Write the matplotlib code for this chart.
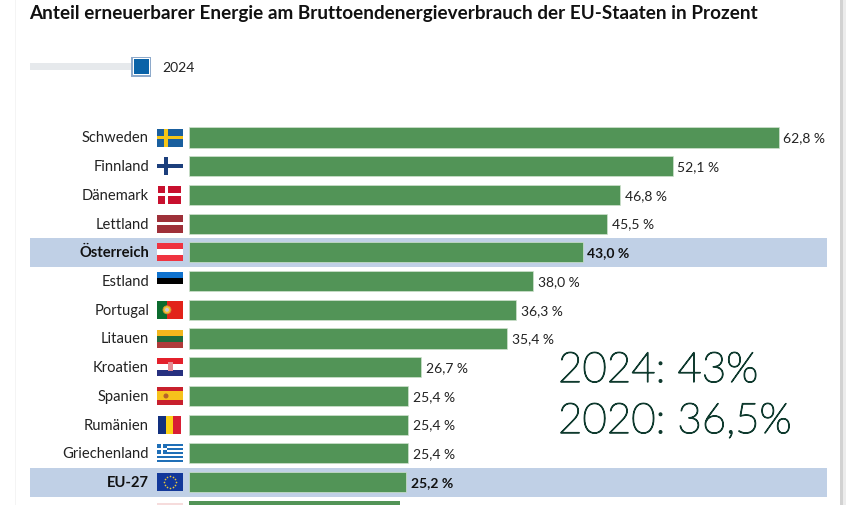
import matplotlib
matplotlib.use('Agg')
import matplotlib.pyplot as plt
import matplotlib.patheffects as pe
from matplotlib.patches import Rectangle, Circle
import numpy as np

countries = ['Schweden', 'Finnland', 'Dänemark', 'Lettland', 'Österreich', 'Estland', 'Portugal',
             'Litauen', 'Kroatien', 'Spanien', 'Rumänien', 'Griechenland', 'EU-27']
values = [62.8, 52.1, 46.8, 45.5, 43.0, 38.0, 36.3, 35.4, 26.7, 25.4, 25.4, 25.4, 25.2]
cut_off_value = 24.6  # next bar, only its top edge is visible
axis_start = 3.2      # the bars in the picture do not start at zero
highlighted = ['Österreich', 'EU-27']
title = 'Anteil erneuerbarer Energie am Bruttoendenergieverbrauch der EU-Staaten in Prozent'
year = '2024'
note_lines = ['2024: 43%', '2020: 36,5%']

W, H = 846, 505
X0, PX_PER_UNIT = 188.5, 9.9
Y0, PITCH = 137.5, 28.72
FONT = 'Lato'
GREEN = '#529457'
BAND = '#c0d0e6'
TEXT = '#222222'

fig = plt.figure(figsize=(W / 100, H / 100), dpi=100)
plt.rcParams['font.family'] = FONT

# overlay in pixel coordinates for the page furniture and the flags
page = fig.add_axes([0, 0, 1, 1])
page.set_xlim(0, W)
page.set_ylim(H, 0)
page.axis('off')

ax = fig.add_axes([0, 0, 1, 1], zorder=2)
ax.patch.set_alpha(0)
ax.set_xlim(axis_start - X0 / PX_PER_UNIT, axis_start + (W - X0) / PX_PER_UNIT)
ax.set_ylim((H - Y0) / PITCH, -Y0 / PITCH)
ax.axis('off')


def rect(x, y, w, h, c, z=1):
    page.add_patch(Rectangle((x, y), w, h, fc=c, ec='none', zorder=z))


def h_bands(cy, colors, x=157, w=26, h=18):
    for i, c in enumerate(colors):
        rect(x, cy - h / 2 + i * h / len(colors), w, h / len(colors), c, 3)


def v_bands(cy, colors, x=158, w=23, h=18):
    for i, c in enumerate(colors):
        rect(x + i * w / len(colors), cy - h / 2, w / len(colors), h, c, 3)


def cross(cy, bg, fg, x=157, w=26, h=18, t=3.5):
    rect(x, cy - h / 2, w, h, bg, 3)
    rect(x + 7, cy - h / 2, t, h, fg, 4)
    rect(x, cy - t / 2, w, t, fg, 4)


def draw_flag(name, cy):
    if name == 'Schweden':
        cross(cy, '#1a5f9e', '#f5c518')
    elif name == 'Finnland':
        cross(cy, '#ffffff', '#1c3f7c')
    elif name == 'Dänemark':
        cross(cy, '#c8102e', '#ffffff', x=158, w=23, t=3)
    elif name == 'Lettland':
        h_bands(cy, ['#9e3039', '#9e3039', '#ffffff', '#9e3039', '#9e3039'])
    elif name == 'Österreich':
        h_bands(cy, ['#ef3340', '#ffffff', '#ef3340'])
    elif name == 'Estland':
        h_bands(cy, ['#0f72ce', '#000000', '#ffffff'])
    elif name == 'Portugal':
        rect(157, cy - 9, 10, 18, '#0b6b2e', 3)
        rect(167, cy - 9, 16, 18, '#e2231a', 3)
        page.add_patch(Circle((167, cy), 4, fc='#f2c230', ec='#c98a3a', lw=0.6, zorder=4))
        page.add_patch(Circle((167, cy), 2, fc='#c9c9d6', ec='none', zorder=5))
    elif name == 'Litauen':
        h_bands(cy, ['#f2b61d', '#1e6b3c', '#b03a3a'])
    elif name == 'Kroatien':
        h_bands(cy, ['#e3202b', '#ffffff', '#27307f'])
        rect(167.5, cy - 5, 5, 9, '#e58a90', 4)
    elif name == 'Spanien':
        h_bands(cy, ['#c8202d', '#f6c21c', '#f6c21c', '#c8202d'])
        page.add_patch(Circle((166, cy), 2.5, fc='#b5622a', ec='none', zorder=4))
    elif name == 'Rumänien':
        v_bands(cy, ['#12307f', '#fbd116', '#d81e34'])
    elif name == 'Griechenland':
        h_bands(cy, ['#1f6fb7', '#ffffff'] * 4 + ['#1f6fb7'])
        rect(157, cy - 9, 10, 10, '#1f6fb7', 4)
        rect(161, cy - 9, 2, 10, '#ffffff', 5)
        rect(157, cy - 5, 10, 2, '#ffffff', 5)
    elif name == 'EU-27':
        rect(157, cy - 9, 26, 18, '#12389a', 3)
        for a in np.arange(0, 2 * np.pi, np.pi / 6):
            page.plot(170 + 6 * np.cos(a), cy + 6 * np.sin(a), 'o', ms=1.2, color='#e8c83a', mew=0, zorder=4)


# page edges
rect(15, 0, 1, H, '#f4f4f4')
rect(840, 0, 3, H, '#d2d2d2')
rect(843, 0, 3, H, '#ececec')

page.text(29.5, 14, title, fontsize=13.6, fontweight='bold', color='#111111', va='center', ha='left')

# year slider
rect(30, 63, 104, 7, '#e6e9ec')
rect(131, 56.5, 20, 20, '#8eaacb', 2)
rect(132.5, 58, 17, 17, '#ffffff', 2)
rect(133.5, 59, 15, 15, '#0a63a8', 3)
page.text(162, 67.5, year, fontsize=10, color=TEXT, va='center', ha='left')

rows = np.arange(len(countries))
for i, name in zip(rows, countries):
    bold = name in highlighted
    cy = Y0 + i * PITCH
    if bold:
        rect(30, cy - 14.5, 797, 29, BAND)
    draw_flag(name, cy)
    ax.text(axis_start - 39.5 / PX_PER_UNIT, i + 0.03, name, ha='right', va='center', fontsize=10.6,
            fontweight='bold' if bold else 'normal', color='#111111' if bold else TEXT)
    ax.text(values[i] + 4.5 / PX_PER_UNIT, i + 0.03, f'{values[i]:.1f} %'.replace('.', ','), ha='left', va='center',
            fontsize=10, fontweight='bold' if bold else 'normal', color='#111111' if bold else TEXT)

ax.barh(rows, np.array(values) - axis_start, left=axis_start, height=0.7, color=GREEN,
        edgecolor='#cfe2cf', linewidth=0.5)
ax.barh([len(countries)], [cut_off_value - axis_start], left=axis_start, height=0.7, color=GREEN)
rect(157, 503, 26, 2, '#f6dcdc', 3)

for j, line in enumerate(note_lines):
    page.text(558, 371 + j * 51, line, fontsize=30.3, fontweight='light', color='#0f3a2e',
              va='center', ha='left', zorder=6,
              path_effects=[pe.withStroke(linewidth=0.9, foreground='#0f3a2e')])

fig.savefig('out.png', dpi=100)
